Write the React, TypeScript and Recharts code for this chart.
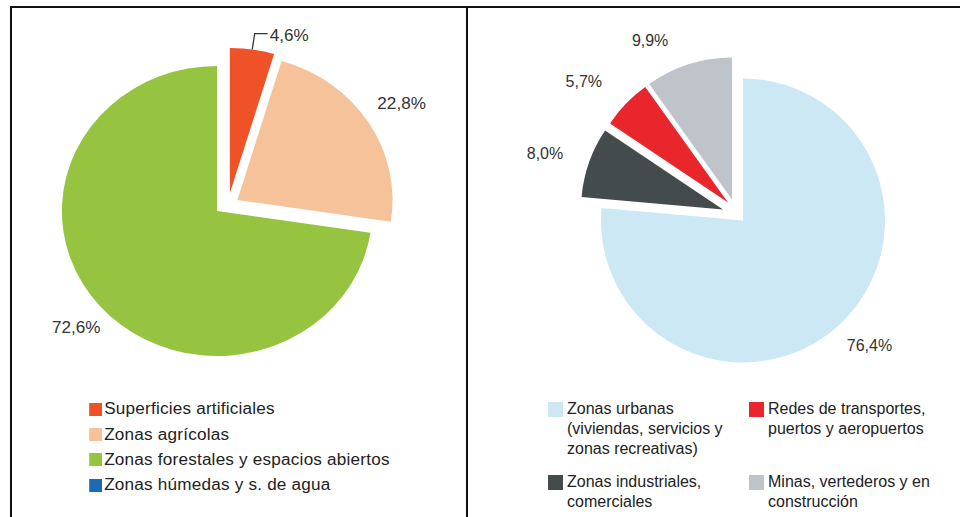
import React from 'react';
import { PieChart, Pie, Cell } from 'recharts';

// ---------- data ----------
const coverCategories = [
  'Superficies artificiales',
  'Zonas agrícolas',
  'Zonas forestales y espacios abiertos',
  'Zonas húmedas y s. de agua',
];
const coverValues = [4.6, 22.8, 72.6, 0];

const artificialCategories = [
  'Zonas urbanas (viviendas, servicios y zonas recreativas)',
  'Zonas industriales, comerciales',
  'Redes de transportes, puertos y aeropuertos',
  'Minas, vertederos y en construcción',
];
const artificialValues = [76.4, 8.0, 5.7, 9.9];

// ---------- styles ----------
const coverColors = ['#EE5226', '#F5C29A', '#96C340', '#1A6BB4'];
const artificialColors = ['#CCE8F4', '#444B4D', '#E9262C', '#BFC3CA'];

// explode offsets per slice [dx, dy]
const coverOffsets = [[12, -18], [19, -11], [0, 0], [0, 0]];
const artificialOffsets = [[0, 0], [-20, -11], [-15, -18], [-11, -21]];

// label placement (angle shift in degrees, distance from slice vertex, leader)
const coverLabelShift = [0, -0.4, 0.9, 0];
const coverLabelRadius = [161, 181, 176, 0];
const coverLeader = [true, false, false, false];
const artificialLabelShift = [2.8, 2.1, 4.2, 9.4];
const artificialLabelRadius = [178, 186.5, 188, 179];
const artificialLeader = [false, false, false, false];

const FONT = '"Liberation Sans", Arial, Helvetica, sans-serif';
const RAD = Math.PI / 180;
const fmt = (v: number) => v.toFixed(1).replace('.', ',') + '%';

type Row = { name: string; value: number };
const coverData: Row[] = coverCategories.map((name, i) => ({ name, value: coverValues[i] }));
const artificialData: Row[] = artificialCategories.map((name, i) => ({ name, value: artificialValues[i] }));

function makeLabel(
  owner: number,
  cx: number,
  cy: number,
  r: number,
  shifts: number[],
  radii: number[],
  leaders: boolean[],
) {
  return (p: any) => {
    if (p.index !== owner || !(p.value > 0)) return null;
    const mid = p.midAngle;
    if (leaders[owner]) {
      const a = mid * RAD;
      const x0 = cx + r * Math.cos(a);
      const y0 = cy - r * Math.sin(a);
      const x1 = cx + radii[owner] * Math.cos(a);
      const y1 = cy - radii[owner] * Math.sin(a);
      const x2 = x1 + 12;
      return (
        <g>
          <polyline points={`${x0},${y0} ${x1},${y1} ${x2},${y1}`} fill="none" stroke="#333" strokeWidth={1.2} />
          <text x={x2 + 2} y={y1 + 2} textAnchor="start" dominantBaseline="central" fill="#333" fontSize={16} fontFamily={FONT}>
            {fmt(p.value)}
          </text>
        </g>
      );
    }
    const a = (mid + shifts[owner]) * RAD;
    const x = cx + radii[owner] * Math.cos(a);
    const y = cy - radii[owner] * Math.sin(a);
    return (
      <text x={x} y={y} textAnchor="middle" dominantBaseline="central" fill="#333" fontSize={16} fontFamily={FONT}>
        {fmt(p.value)}
      </text>
    );
  };
}

function ExplodedPie(props: {
  data: Row[];
  colors: string[];
  offsets: number[][];
  cx: number;
  cy: number;
  r: number;
  shifts: number[];
  radii: number[];
  leaders: boolean[];
  width: number;
  height: number;
}) {
  const { data, colors, offsets, cx, cy, r, shifts, radii, leaders, width, height } = props;
  return (
    <PieChart width={width} height={height} margin={{ top: 0, right: 0, bottom: 0, left: 0 }}>
      {data.map((_, i) => {
        const pcx = cx + offsets[i][0];
        const pcy = cy + offsets[i][1];
        return (
          <Pie
            key={'p' + i}
            data={data}
            dataKey="value"
            nameKey="name"
            cx={pcx}
            cy={pcy}
            innerRadius={0}
            outerRadius={r}
            startAngle={90}
            endAngle={-270}
            isAnimationActive={false}
            stroke="none"
            labelLine={false}
            label={makeLabel(i, pcx, pcy, r, shifts, radii, leaders)}
          >
            {data.map((__, j) => (
              <Cell key={'c' + j} fill={j === i ? colors[j] : 'transparent'} stroke="none" />
            ))}
          </Pie>
        );
      })}
    </PieChart>
  );
}

export default function App() {
  return (
    <div
      style={{
        position: 'absolute',
        left: 0,
        top: 0,
        width: 960,
        height: 517,
        background: '#fff',
        overflow: 'hidden',
        fontFamily: FONT,
      }}
    >
      {/* left panel (slightly stretched horizontally like the reference) */}
      <div
        style={{
          position: 'absolute',
          left: 0,
          top: 0,
          width: 436,
          height: 517,
          transform: 'scaleX(1.07)',
          transformOrigin: '10px 0px',
        }}
      >
        <ExplodedPie
          data={coverData}
          colors={coverColors}
          offsets={coverOffsets}
          cx={203.5}
          cy={211}
          r={145}
          shifts={coverLabelShift}
          radii={coverLabelRadius}
          leaders={coverLeader}
          width={436}
          height={517}
        />
        <div style={{ position: 'absolute', left: 84, top: 396.6 }}>
          {coverCategories.map((name, i) => (
            <div key={name} style={{ display: 'flex', alignItems: 'center', height: 25.3 }}>
              <span style={{ display: 'inline-block', width: 12, height: 13, background: coverColors[i], marginRight: 2 }} />
              <span style={{ fontSize: 16, color: '#222', whiteSpace: 'nowrap', letterSpacing: 0.2 }}>{name}</span>
            </div>
          ))}
        </div>
      </div>

      {/* right panel */}
      <div style={{ position: 'absolute', left: 467, top: 0, width: 493, height: 517 }}>
        <ExplodedPie
          data={artificialData}
          colors={artificialColors}
          offsets={artificialOffsets}
          cx={276}
          cy={220.5}
          r={142}
          shifts={artificialLabelShift}
          radii={artificialLabelRadius}
          leaders={artificialLeader}
          width={493}
          height={517}
        />
        <div
          style={{
            position: 'absolute',
            left: 81,
            top: 399,
            display: 'grid',
            gridTemplateColumns: '201px 200px',
            gridTemplateRows: '73.3px auto',
            gridAutoFlow: 'column',
          }}
        >
          {artificialCategories.map((name, i) => (
            <div key={name} style={{ display: 'flex', alignItems: 'flex-start' }}>
              <span
                style={{
                  display: 'inline-block',
                  flex: '0 0 auto',
                  width: 15,
                  height: 15,
                  marginTop: 2.7,
                  background: artificialColors[i],
                  marginRight: 4,
                }}
              />
              <span style={{ fontSize: 16, lineHeight: '20px', color: '#222', width: 178 }}>{name}</span>
            </div>
          ))}
        </div>
      </div>

      {/* frame lines */}
      <div style={{ position: 'absolute', left: 10, top: 6, width: 950, height: 2, background: '#111' }} />
      <div style={{ position: 'absolute', left: 10, top: 6, width: 2, height: 511, background: '#111' }} />
      <div style={{ position: 'absolute', left: 466, top: 6, width: 2, height: 511, background: '#111' }} />
    </div>
  );
}
